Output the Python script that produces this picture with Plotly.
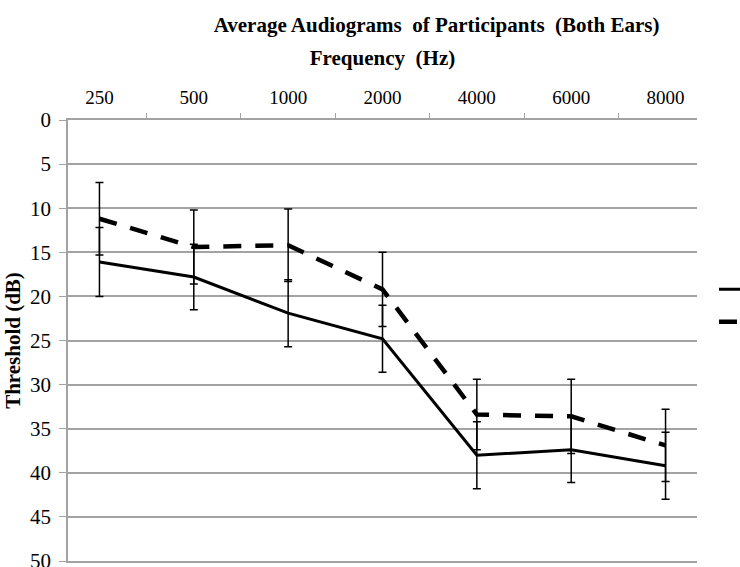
import plotly.graph_objects as go

frequencies = ["250", "500", "1000", "2000", "4000", "6000", "8000"]
solid_vals = [16.1, 17.8, 21.9, 24.8, 38.0, 37.4, 39.2]
solid_err = [3.9, 3.7, 3.8, 3.8, 3.8, 3.7, 3.8]
dashed_vals = [11.2, 14.4, 14.2, 19.2, 33.4, 33.6, 36.9]
dashed_err = [4.1, 4.2, 4.1, 4.2, 4.0, 4.2, 4.1]
y_ticks = list(range(0, 55, 5))

SERIF = "Liberation Serif, Times New Roman, serif"
GRID = "#a3a3a3"

fig = go.Figure()
fig.add_trace(go.Scatter(
    x=frequencies, y=solid_vals, mode="lines", name="",
    legendgroup="a", showlegend=True,
    line=dict(color="black", width=3),
    error_y=dict(type="data", array=solid_err, visible=True,
                 color="black", thickness=1.5, width=4),
))
fig.add_trace(go.Scatter(
    x=frequencies, y=dashed_vals, mode="lines", name="",
    legendgroup="b", showlegend=True,
    line=dict(color="black", width=4.5, dash="18px,14px"),
    error_y=dict(type="data", array=dashed_err, visible=True,
                 color="black", thickness=1.5, width=4),
))

fig.update_layout(
    width=740, height=567,
    margin=dict(l=68, r=43, t=120, b=6, autoexpand=False),
    paper_bgcolor="white", plot_bgcolor="white",
    font=dict(family=SERIF, color="black", size=18),
    title=dict(text="<b>Average Audiograms  of Participants  (Both Ears)</b>",
               x=0.59, xanchor="center", y=0.956, yanchor="middle",
               font=dict(size=21, family=SERIF)),
    showlegend=True,
    legend=dict(x=1.027, xanchor="left", y=0.579, yanchor="middle",
                font=dict(size=18, family=SERIF),
                tracegroupgap=6, bgcolor="rgba(0,0,0,0)"),
    xaxis=dict(
        type="category", side="top",
        categoryorder="array", categoryarray=frequencies,
        showgrid=False, showline=True, mirror=True,
        linecolor=GRID, linewidth=1.5,
        ticks="outside", tickson="boundaries", ticklen=5, tickcolor=GRID,
        ticklabelstandoff=7,
        tickfont=dict(size=19, family=SERIF),
        title=dict(text="<b>Frequency  (Hz)</b>", font=dict(size=21, family=SERIF),
                   standoff=15),
    ),
    yaxis=dict(
        range=[50, 0], tickvals=y_ticks,
        showgrid=True, gridcolor=GRID, gridwidth=1.5,
        showline=True, linecolor=GRID, linewidth=1.5,
        ticks="outside", ticklen=7, tickcolor=GRID,
        ticklabelstandoff=4, ticklabeloverflow="allow",
        zeroline=False,
        tickfont=dict(size=21, family=SERIF),
        title=dict(text="<b>Threshold (dB)</b>", font=dict(size=21, family=SERIF),
                   standoff=4),
    ),
)

fig.write_html("out.html")
